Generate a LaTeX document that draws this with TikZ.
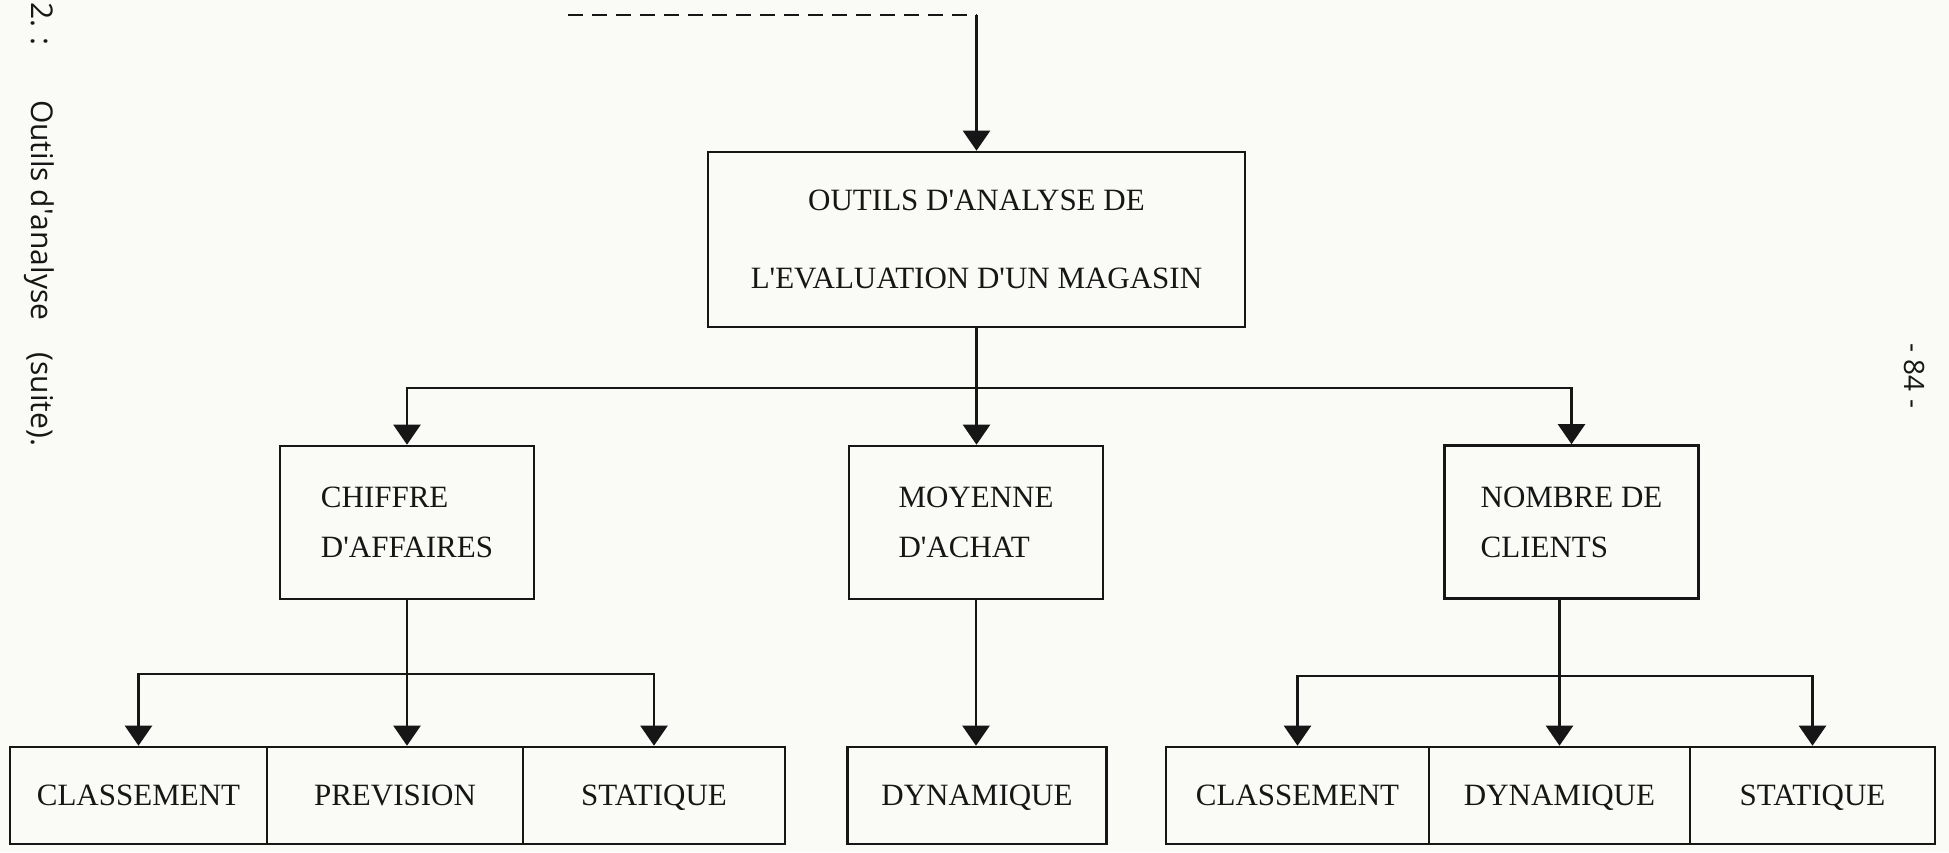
\documentclass[tikz,border=0pt]{standalone}
\usepackage{fontspec}
\setmainfont{Liberation Serif}
\newfontfamily\notefont{Open Sans}
\usetikzlibrary{arrows.meta,calc}
\definecolor{paper}{RGB}{250,250,246}
\definecolor{ink}{RGB}{22,22,22}
\newcommand\apos{\textquotesingle}
\begin{document}
\begin{tikzpicture}[x=1pt,y=-1pt,
  box/.style={draw=ink,line width=2.6pt,inner sep=0pt,text=ink},
  topbox/.style={box,align=center,font=\fontsize{31}{78}\selectfont},
  midbox/.style={box,align=left,minimum width=254pt,minimum height=153pt,
    font=\fontsize{31}{50}\selectfont},
  botbox/.style={box,minimum height=97pt,text depth=0pt,
    font=\fontsize{31}{37}\selectfont},
  wire/.style={draw=ink,line width=2.3pt},
  conn/.style={wire,-{Triangle[width=27pt,length=20pt]}},
  dashwire/.style={draw=ink,line width=2.4pt,dash pattern=on 15pt off 9pt},
  note/.style={inner sep=0pt,text=ink,font=\notefont\fontsize{30}{36}\selectfont}]

% page
\fill[paper] (0,0) rectangle (1949,852);
\useasboundingbox (0,0) rectangle (1949,852);

% side notes (portrait page, rotated)
\node[note,anchor=base west,rotate=-90] (fignum) at (31,2) {2. :};
\node[note,anchor=base west,rotate=-90] (caption) at (31,100)
  {Outils d\apos analyse\hspace{32pt}(suite).};
\node[note,anchor=base,rotate=-90,font=\notefont\fontsize{28}{32}\selectfont]
  (pagenum) at (1904,376) {- 84 -};

% top level
\node[topbox,minimum width=537pt,minimum height=175pt] (main) at (976.5,239.5)
  {OUTILS D\apos ANALYSE DE\\L\apos EVALUATION D\apos UN MAGASIN};

% second level
\node[midbox] (chif) at (407,522.5) {CHIFFRE\\D\apos AFFAIRES};
\node[midbox] (moy)  at (976,522.5) {MOYENNE\\D\apos ACHAT};
\node[midbox] (nomb) at (1571.5,522) {NOMBRE DE\\CLIENTS};

% third level
\node[botbox,minimum width=257pt] (cl1)  at (138.5,795.5) {CLASSEMENT};
\node[botbox,minimum width=256pt] (prev) at (395,795.5)   {PREVISION};
\node[botbox,minimum width=262pt] (st1)  at (654,795.5)   {STATIQUE};
\node[botbox,minimum width=259pt] (dyn)  at (977,795.5)   {DYNAMIQUE};
\node[botbox,minimum width=263pt] (cl2)  at (1297.5,795.5) {CLASSEMENT};
\node[botbox,minimum width=261pt] (dy2)  at (1559.5,795.5) {DYNAMIQUE};
\node[botbox,minimum width=245pt] (st2)  at (1812.5,795.5) {STATIQUE};

% incoming link from the previous page
\coordinate (from) at (568,15);
\coordinate (corner) at (main.north |- from);
\draw[dashwire] (from) -- (corner);
\draw[conn] (corner) -- (main.north);

% first split
\draw[conn] (main.south) -- (main.south |- moy.north);
\path (main.south) ++(0,60) coordinate (bus1);
\draw[conn] (bus1) -| (chif.north);
\draw[conn] (bus1) -| (nomb.north);

% second splits
\draw[conn] (chif.south) -- (chif.south |- prev.north);
\path (chif.south) ++(0,74) coordinate (bus2);
\draw[conn] (bus2) -| (cl1.north);
\draw[conn] (bus2) -| (st1.north);

\draw[conn] (moy.south) -- (moy.south |- dyn.north);

\coordinate (drop3) at (dy2.north |- nomb.south);
\draw[conn] (drop3) -- (dy2.north);
\path (drop3) ++(0,76) coordinate (bus3);
\draw[conn] (bus3) -| (cl2.north);
\draw[conn] (bus3) -| (st2.north);
\end{tikzpicture}
\end{document}
